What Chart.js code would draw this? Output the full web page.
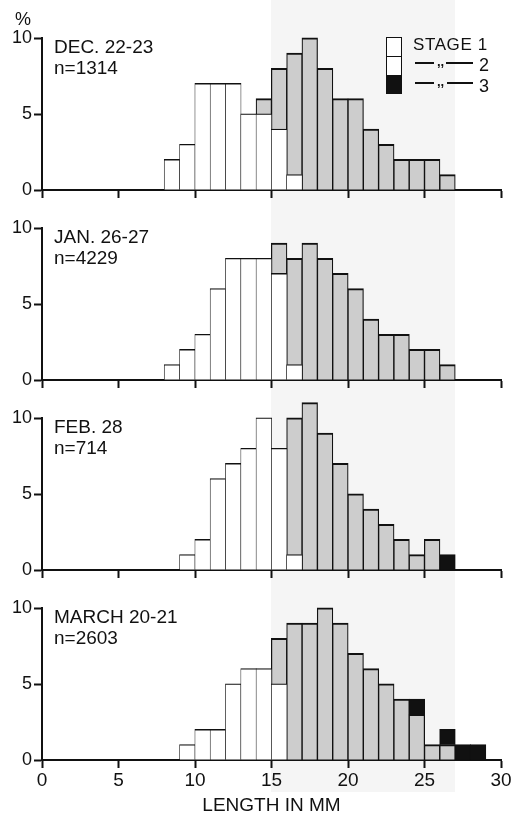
<!DOCTYPE html>
<html>
<head>
<meta charset="utf-8">
<script src="https://cdn.jsdelivr.net/npm/chart.js@4.4.1/dist/chart.umd.min.js"></script>
<style>
html,body{margin:0;padding:0;background:#fff;}
#fig{position:relative;width:518px;height:817px;overflow:hidden;font-family:"Liberation Sans",Arial,sans-serif;color:#111;}
.band{position:absolute;left:271px;top:0;width:184px;height:792px;background:#f5f5f5;}
canvas{position:absolute;left:0;}
.t{position:absolute;white-space:nowrap;z-index:2;}
.lbl{font-size:19px;line-height:19px;left:54px;}
.box{position:absolute;left:386px;width:14px;border:1.5px solid #111;z-index:2;}
.ln{position:absolute;height:2px;background:#111;z-index:2;}
</style>
</head>
<body>
<div id="fig">
  <div class="band"></div>
  <canvas id="c0" width="518" height="190" style="top:20px"></canvas>
  <canvas id="c1" width="518" height="190" style="top:210px"></canvas>
  <canvas id="c2" width="518" height="190" style="top:400px"></canvas>
  <canvas id="c3" width="518" height="227" style="top:590px"></canvas>

  <div class="t" style="left:15px;top:10px;font-size:18px;line-height:18px;">%</div>

  <div class="t lbl" id="l0" style="top:37px;"></div>
  <div class="t lbl" id="n0" style="top:58px;"></div>
  <div class="t lbl" id="l1" style="top:227px;"></div>
  <div class="t lbl" id="n1" style="top:248px;"></div>
  <div class="t lbl" id="l2" style="top:417px;"></div>
  <div class="t lbl" id="n2" style="top:438px;"></div>
  <div class="t lbl" id="l3" style="top:607px;"></div>
  <div class="t lbl" id="n3" style="top:628px;"></div>

  <!-- legend -->
  <div class="box" style="top:37px;height:18px;background:#fff;"></div>
  <div class="box" style="top:56.5px;height:18px;background:#fff;border-top:none;"></div>
  <div class="box" style="top:76px;height:17px;background:#111;border-top:none;"></div>
  <div class="t" style="left:413px;top:36px;font-size:17px;line-height:17px;letter-spacing:0.6px;">STAGE 1</div>
  <div class="ln" style="left:415px;top:62px;width:19px;"></div>
  <div class="t" style="left:437px;top:55px;font-size:13px;line-height:13px;font-weight:bold;">,,</div>
  <div class="ln" style="left:446px;top:62px;width:27px;"></div>
  <div class="t" style="left:479px;top:56px;font-size:18px;line-height:18px;">2</div>
  <div class="ln" style="left:415px;top:82px;width:19px;"></div>
  <div class="t" style="left:437px;top:75px;font-size:13px;line-height:13px;font-weight:bold;">,,</div>
  <div class="ln" style="left:447px;top:82px;width:26px;"></div>
  <div class="t" style="left:479px;top:77px;font-size:18px;line-height:18px;">3</div>
</div>
<script>
// ---- data (percent of sample per 1-mm length class) ----
const bins = [8,9,10,11,12,13,14,15,16,17,18,19,20,21,22,23,24,25,26,27,28]; // lower edge, mm
const panelTitles = ["DEC. 22-23", "JAN. 26-27", "FEB. 28", "MARCH 20-21"];
const sampleSizes = ["n=1314", "n=4229", "n=714", "n=2603"];
const stageNames = ["STAGE 1", "STAGE 2", "STAGE 3"];
const xTicks = [0,5,10,15,20,25,30];
const yTicks = [0,5,10];

const decStage1 = [2,3,7,7,7,5,5,4,1,null,null,null,null,null,null,null,null,null,null,null,null];
const decStage2 = [null,null,null,null,null,null,1,4,8,10,8,6,6,4,3,2,2,2,1,null,null];
const decStage3 = [null,null,null,null,null,null,null,null,null,null,null,null,null,null,null,null,null,null,null,null,null];

const janStage1 = [1,2,3,6,8,8,8,7,1,null,null,null,null,null,null,null,null,null,null,null,null];
const janStage2 = [null,null,null,null,null,null,null,2,7,9,8,7,6,4,3,3,2,2,1,null,null];
const janStage3 = [null,null,null,null,null,null,null,null,null,null,null,null,null,null,null,null,null,null,null,null,null];

const febStage1 = [null,1,2,6,7,8,10,8,1,null,null,null,null,null,null,null,null,null,null,null,null];
const febStage2 = [null,null,null,null,null,null,null,null,9,11,9,7,5,4,3,2,1,2,null,null,null];
const febStage3 = [null,null,null,null,null,null,null,null,null,null,null,null,null,null,null,null,null,null,1,null,null];

const marStage1 = [null,1,2,2,5,6,6,5,null,null,null,null,null,null,null,null,null,null,null,null,null];
const marStage2 = [null,null,null,null,null,null,null,3,9,9,10,9,7,6,5,4,3,1,1,null,null];
const marStage3 = [null,null,null,null,null,null,null,null,null,null,null,null,null,null,null,null,1,null,1,1,1];

const panels = [
  [decStage1, decStage2, decStage3],
  [janStage1, janStage2, janStage3],
  [febStage1, febStage2, febStage3],
  [marStage1, marStage2, marStage3]
];

const FONT = "'Liberation Sans', Arial, sans-serif";
const INK = '#111';
const fills = ['#ffffff', '#cdcdcd', '#111111'];
const borders = [
  {top:1.3, left:0.7, right:0.7, bottom:0},
  {top:2, left:1.2, right:1.2, bottom:0},
  {top:1.5, left:0.8, right:0.8, bottom:0}
];

panelTitles.forEach((t,i)=>{ document.getElementById('l'+i).textContent = t; document.getElementById('n'+i).textContent = sampleSizes[i]; });

function makePanel(idx){
  const canvas = document.getElementById('c'+idx);
  const H = canvas.height;
  const last = idx === panels.length - 1;
  const labels = bins.map(b => b + 0.5);
  const datasets = panels[idx].map((arr, s) => ({
    label: stageNames[s],
    data: arr,
    backgroundColor: fills[s],
    borderColor: INK,
    borderWidth: borders[s],
    barPercentage: 1,
    categoryPercentage: 1,
    inflateAmount: 0.5,
    clip: false
  }));
  new Chart(canvas, {
    type: 'bar',
    data: { labels, datasets },
    options: {
      responsive: false,
      animation: false,
      devicePixelRatio: 1,
      layout: { padding: { top: 18, right: 17, left: 0, bottom: 0 } },
      plugins: { legend: { display: false }, tooltip: { enabled: false } },
      scales: {
        x: {
          type: 'linear', min: 0, max: 30, offset: false, stacked: true,
          afterBuildTicks: s => { s.ticks = xTicks.map(v => ({value: v})); },
          afterFit: s => { s.height = H - 170; },
          grid: { display: true, drawOnChartArea: false, drawTicks: true, tickLength: 8, tickColor: INK, tickWidth: 2, offset: false },
          border: { display: true, color: INK, width: 2 },
          ticks: { display: last, padding: 1, color: INK, font: { family: FONT, size: 19 }, maxRotation: 0 },
          title: { display: last, text: 'LENGTH IN MM', color: INK, font: { family: FONT, size: 19, lineHeight: 1 }, padding: { top: 0, bottom: 2 } }
        },
        y: {
          min: 0, max: 10, stacked: true,
          afterBuildTicks: s => { s.ticks = yTicks.map(v => ({value: v})); },
          afterFit: s => { s.width = 42; },
          grid: { display: true, drawOnChartArea: false, drawTicks: true, tickLength: 8, tickColor: INK, tickWidth: 2 },
          border: { display: true, color: INK, width: 2 },
          ticks: { padding: 2, color: INK, font: { family: FONT, size: 18 } }
        }
      }
    }
  });
}
panels.forEach((p, i) => makePanel(i));
</script>
</body>
</html>
